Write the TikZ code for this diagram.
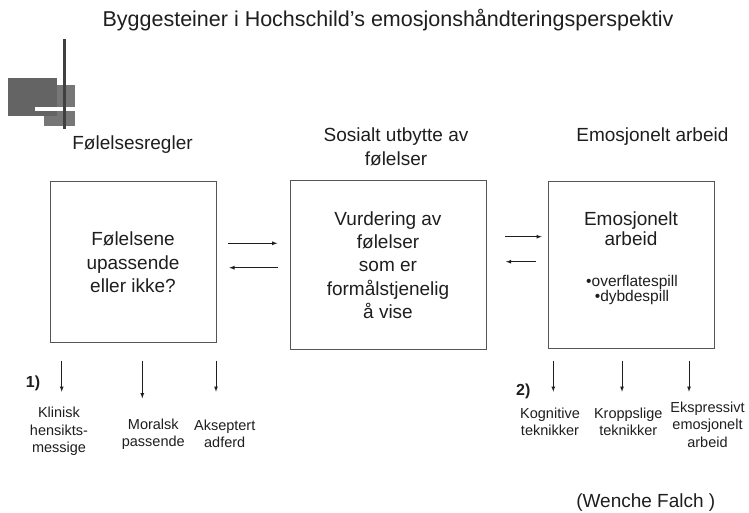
\documentclass[tikz,border=0pt]{standalone}
\usepackage{fontspec}
\setmainfont{Liberation Sans}
\usetikzlibrary{arrows}
\definecolor{txtgray}{HTML}{1E1E1E}
\definecolor{framegray}{HTML}{555555}
\definecolor{decolight}{HTML}{767676}
\definecolor{decodark}{HTML}{646464}
\definecolor{decoline}{HTML}{404040}

\begin{document}
\begin{tikzpicture}[x=1pt,y=-1pt,>=latex,color=txtgray,line width=0.8pt,
    box/.style={draw=framegray, line width=1pt, inner sep=0pt,
        align=center, font=\fontsize{19}{23.3}\selectfont},
    head/.style={align=center, font=\fontsize{19}{23.5}\selectfont},
    small/.style={align=center, font=\fontsize{14.5}{17.5}\selectfont},
    nr/.style={font=\fontsize{16}{18}\bfseries\selectfont}]

        \useasboundingbox (0,0) rectangle (749,513);

        % logo
        \fill[decolight] (44,85) rectangle (75,126);
        \fill[decodark] (8,78) rectangle (57,116);
        \fill[white] (35,107.3) rectangle (75,110.7);
        \fill[decoline] (63.2,39.3) rectangle (65.8,129.3);

        \node[font=\fontsize{21.5}{25}\selectfont] (title) at (388,20.5)
            {Byggesteiner i Hochschild’s emosjonshåndteringsperspektiv};

        \node[head] (regler) at (132.5,144.3) {Følelsesregler};
        \node[head] (sosialt) at (396,147) {Sosialt utbytte av\\følelser};
        \node[head] (emo) at (652.4,136.7) {Emosjonelt arbeid};

        \node[box, minimum width=166pt, minimum height=161pt] (upassende) at (133,262.3)
            {Følelsene\\upassende\\eller ikke?};
        \node[box, minimum width=196pt, minimum height=168pt] (vurdering) at (388,265)
            {Vurdering av\\følelser\\som er\\formålstjenelig\\å vise};
        \node[box, minimum width=165.7pt, minimum height=167.5pt] (arbeid) at (631.2,265.2) {};
        \node[head, font=\fontsize{19}{20}\selectfont] (arbeidtxt) at (631,228.6) {Emosjonelt\\arbeid};
        \node[align=center, font=\fontsize{15.5}{13.5}\selectfont] (spill) at (632,290)
            {•overflatespill\\•dybdespill};

        \coordinate (h1) at (228.3,243.3);
        \coordinate (h1') at (277.3,243.3);
        \coordinate (v1) at (278.3,267.7);
        \coordinate (v1') at (229.3,267.7);
        \coordinate (h2) at (505,236.7);
        \coordinate (h2') at (541.7,236.7);
        \coordinate (v2) at (536,261.7);
        \coordinate (v2') at (506,261.7);
        \draw[->] (h1) -- (h1');
        \draw[->] (v1) -- (v1');
        \draw[->] (h2) -- (h2');
        \draw[->] (v2) -- (v2');

        % regler
        \node[nr] (en) at (33,383.3) {1)};
        \node[small] (klinisk) at (59,431.7) {Klinisk\\hensikts-\\messige};
        \node[small] (moralsk) at (153.3,434) {Moralsk\\passende};
        \node[small] (akseptert) at (224.7,434) {Akseptert\\adferd};
        \coordinate (a1) at (61.7,360.7);
        \coordinate (a1') at (61.7,391.7);
        \coordinate (a2) at (142.3,360.7);
        \coordinate (a2') at (142.3,398.3);
        \coordinate (a3) at (216,360.7);
        \coordinate (a3') at (216,391.7);
        \draw[->] (a1) -- (a1');
        \draw[->] (a2) -- (a2');
        \draw[->] (a3) -- (a3');

        % teknikker
        \node[nr] (to) at (523.3,391.7) {2)};
        \node[small] (kognitive) at (550,422) {Kognitive\\teknikker};
        \node[small] (kroppslige) at (628.3,422) {Kroppslige\\teknikker};
        \node[small] (ekspressivt) at (707.5,424.7) {Ekspressivt\\emosjonelt\\arbeid};
        \coordinate (b1) at (553.3,360.7);
        \coordinate (b1') at (553.3,391.7);
        \coordinate (b2) at (622,360.7);
        \coordinate (b2') at (622,391.7);
        \coordinate (b3) at (689,360.7);
        \coordinate (b3') at (689,391.7);
        \draw[->] (b1) -- (b1');
        \draw[->] (b2) -- (b2');
        \draw[->] (b3) -- (b3');

        \node[head] (falch) at (645.8,502.5) {(Wenche Falch )};
\end{tikzpicture}
\end{document}
